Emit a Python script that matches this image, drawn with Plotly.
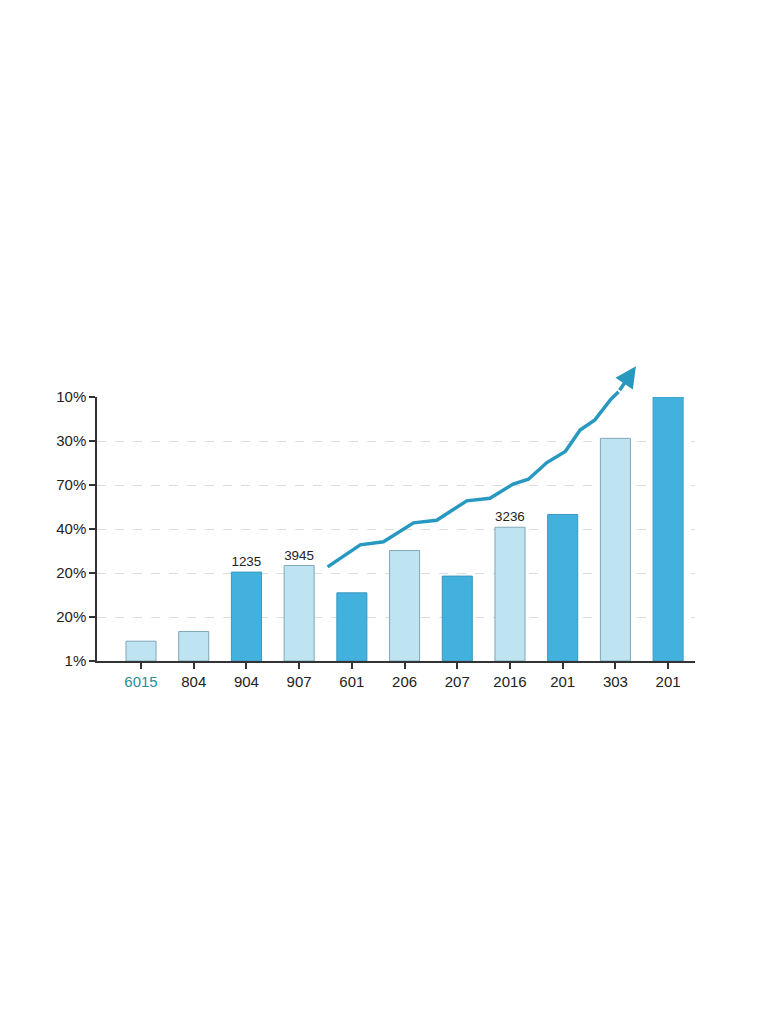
import plotly.graph_objects as go

categories = ["6015", "804", "904", "907", "601", "206", "207", "2016", "201", "303", "201"]
bar_values = [0.45, 0.67, 2.02, 2.17, 1.55, 2.51, 1.93, 3.04, 3.33, 5.06, 6.0]
bar_shade = ["light", "light", "dark", "light", "dark", "light", "dark", "light", "dark", "light", "dark"]
bar_labels = ["", "", "1235", "3945", "", "", "", "3236", "", "", ""]

y_ticktext = ["1%", "20%", "20%", "40%", "70%", "30%", "10%"]

# trend line (in category units / grid units)
trend_x = [3.54, 4.16, 4.60, 5.17, 5.61, 6.18, 6.62, 7.06, 7.35, 7.70, 8.05, 8.33, 8.61, 8.90, 9.06]
trend_y = [2.14, 2.64, 2.71, 3.14, 3.20, 3.64, 3.70, 4.02, 4.13, 4.51, 4.76, 5.25, 5.48, 5.93, 6.12]
arrow_tip = (9.39, 6.70)

FILL = {"light": "#bfe4f1", "dark": "#42b1de"}
EDGE = {"light": "#7fa8b8", "dark": "#3c98c0"}
LINE_COLOR = "#2799c0"

# bars sit in the lower part; a hidden second y axis with the same scale
# gives the trend line room above the top gridline
frac = 264 / 304
y_top = 6

ticktext = [f"<span style='color:#2a8c9c'>{categories[0]}</span>"] + categories[1:]
tick_style = dict(ticks="outside", ticklen=6, tickcolor="#333333", tickwidth=1.5,
                  showline=True, linecolor="#333333", linewidth=1.5,
                  zeroline=False, tickfont=dict(size=15, color="#222222"))

fig = go.Figure()
fig.add_trace(go.Bar(
    x=list(range(len(categories))),
    y=bar_values,
    width=0.57,
    marker=dict(color=[FILL[s] for s in bar_shade],
                line=dict(color=[EDGE[s] for s in bar_shade], width=1)),
    text=bar_labels,
    textposition="outside",
    textfont=dict(size=14, color="#222222"),
    cliponaxis=False,
    hoverinfo="skip",
))
fig.add_trace(go.Scatter(
    x=trend_x, y=trend_y, mode="lines", xaxis="x", yaxis="y2",
    line=dict(color=LINE_COLOR, width=3.5),
    hoverinfo="skip",
))
fig.add_annotation(
    x=arrow_tip[0], y=arrow_tip[1], ax=trend_x[-1], ay=trend_y[-1],
    xref="x", yref="y2", axref="x", ayref="y2",
    showarrow=True, arrowhead=2, arrowsize=1.2, arrowwidth=3.5,
    arrowcolor=LINE_COLOR, text="",
)

fig.update_layout(
    width=768, height=1024,
    margin=dict(l=89, r=81, t=349, b=371),
    paper_bgcolor="white", plot_bgcolor="rgba(0,0,0,0)",
    showlegend=False,
    font=dict(family="Liberation Sans, Arial, sans-serif", size=15, color="#222222"),
    xaxis=dict(range=[-0.835, 10.51], anchor="y",
               tickvals=list(range(len(categories))), ticktext=ticktext,
               showgrid=False, **tick_style),
    yaxis=dict(range=[0, y_top], domain=[0, frac], anchor="x",
               tickvals=list(range(len(y_ticktext))), ticktext=y_ticktext,
               showgrid=True, gridcolor="#d8dde0", griddash="dash", gridwidth=1,
               **tick_style),
    yaxis2=dict(range=[0, y_top / frac], domain=[0, 1], anchor="x",
                visible=False, showgrid=False, fixedrange=True),
)

fig.write_html("out.html")
